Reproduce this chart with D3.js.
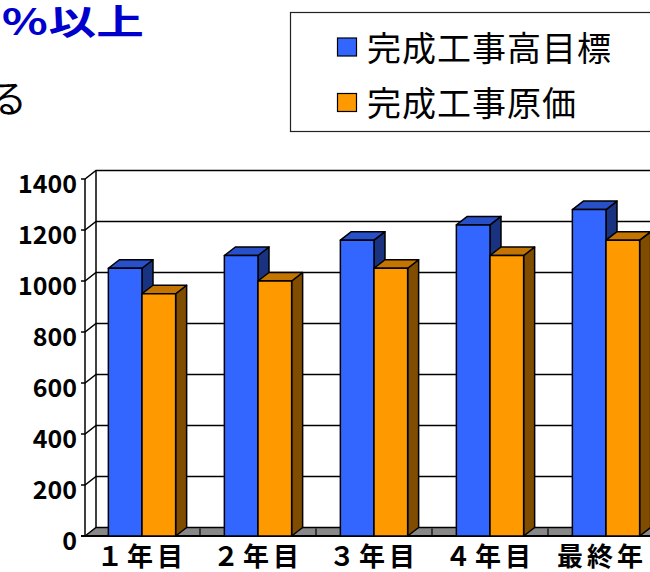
<!DOCTYPE html>
<html>
<head>
<meta charset="utf-8">
<title>chart</title>
<style>
body { margin: 0; background: #fff; }
</style>
</head>
<body>
<div id="chart"></div>
<script src="https://cdn.jsdelivr.net/npm/d3@7"></script>
<script type="text/javascript">

// データ
var categories = ['１年目', '２年目', '３年目', '４年目', '最終年'];
var seriesNames = ['完成工事高目標', '完成工事原価'];
var targetValues = [1050, 1100, 1160, 1220, 1280];
var costValues = [950, 1000, 1050, 1100, 1160];
var yTicks = [0, 200, 400, 600, 800, 1000, 1200, 1400];

var values = [targetValues, costValues];
var colors = [
    {front: '#3366FF', top: '#2850C8', side: '#1A3380'},
    {front: '#FF9900', top: '#C47400', side: '#7F4C00'}
];

// 奥行き
var dx = 11, dy = -8.5;
var axisX = 85, rightX = 720;
var font = '"Noto Sans CJK JP", "Noto Sans", sans-serif';

var svg = d3.select('#chart')
.append('svg')
.attr('width', 650)
.attr('height', 572)
.style('display', 'block');

var yScale = d3.scaleLinear()
.domain([0, 1400])
.range([536, 179]);

var xScale = d3.scaleBand()
.domain(categories)
.range([84, 664])
.paddingInner(0.42)
.paddingOuter(0.21);

var subScale = d3.scaleBand()
.domain(d3.range(seriesNames.length))
.range([0, xScale.bandwidth()]);

var y0 = yScale(0), yTop = yScale(1400);

// 壁
svg.append('path')
.attr('d', 'M' + (axisX + dx) + ',' + (yTop + dy) + 'L' + (axisX + dx) + ',' + (y0 + dy))
.attr('stroke', '#000').attr('stroke-width', 1.5).attr('fill', 'none');

svg.append('path')
.attr('d', 'M' + axisX + ',' + yTop + 'L' + axisX + ',' + y0)
.attr('stroke', '#000').attr('stroke-width', 1.5).attr('fill', 'none');

// 目盛線
yTicks.forEach(function(v) {
    if (v == 0) return;
    var yy = yScale(v);
    svg.append('path')
    .attr('d', 'M' + (axisX - 4) + ',' + yy + 'L' + axisX + ',' + yy +
        'L' + (axisX + dx) + ',' + (yy + dy) + 'L' + rightX + ',' + (yy + dy))
    .attr('stroke', '#000')
    .attr('stroke-width', 1.5)
    .attr('fill', 'none');
});

// 床
svg.append('path')
.attr('d', 'M' + axisX + ',' + y0 + 'L' + (axisX + dx) + ',' + (y0 + dy) +
    'L' + rightX + ',' + (y0 + dy) + 'L' + rightX + ',' + y0 + 'Z')
.attr('fill', '#888')
.attr('stroke', '#000')
.attr('stroke-width', 1.5);

svg.append('path')
.attr('d', 'M' + (axisX - 4) + ',' + y0 + 'L' + rightX + ',' + y0)
.attr('stroke', '#000').attr('stroke-width', 2);

// 項目軸の目盛
categories.forEach(function(c, i) {
    if (i == 0) return;
    var xx = xScale(c) - xScale.step() * xScale.paddingInner() / 2;
    svg.append('line')
    .attr('x1', xx).attr('x2', xx)
    .attr('y1', y0 + dy + 1).attr('y2', y0)
    .attr('stroke', '#000')
    .attr('stroke-width', 1.2);
});

// 棒
categories.forEach(function(c, i) {
    values.forEach(function(arr, s) {
        var x = xScale(c) + subScale(s);
        var w = subScale.bandwidth();
        var yv = yScale(arr[i]);
        var g = svg.append('g')
        .attr('stroke', '#000')
        .attr('stroke-width', 1.5)
        .attr('stroke-linejoin', 'round');

        g.append('path')
        .attr('d', 'M' + (x + w) + ',' + yv + 'L' + (x + w + dx) + ',' + (yv + dy) +
            'L' + (x + w + dx) + ',' + (y0 + dy) + 'L' + (x + w) + ',' + y0 + 'Z')
        .attr('fill', colors[s].side);

        g.append('path')
        .attr('d', 'M' + x + ',' + yv + 'L' + (x + dx) + ',' + (yv + dy) +
            'L' + (x + w + dx) + ',' + (yv + dy) + 'L' + (x + w) + ',' + yv + 'Z')
        .attr('fill', colors[s].top);

        g.append('rect')
        .attr('x', x)
        .attr('y', yv)
        .attr('width', w)
        .attr('height', y0 - yv)
        .attr('fill', colors[s].front);
    });
});

// 数値軸ラベル
yTicks.forEach(function(v) {
    svg.append('text')
    .attr('x', 77)
    .attr('y', yScale(v) + 2.5)
    .attr('text-anchor', 'end')
    .attr('dominant-baseline', 'central')
    .style('font-family', font)
    .style('font-weight', 700)
    .style('font-size', '25px')
    .text(v);
});

// 項目ラベル
categories.forEach(function(c, i) {
    svg.append('text')
    .attr('x', xScale(c) + xScale.bandwidth() / 2 - (i == categories.length - 1 ? 4 : 0))
    .attr('y', 554)
    .attr('text-anchor', 'middle')
    .attr('dominant-baseline', 'central')
    .style('font-family', font)
    .style('font-weight', 700)
    .style('font-size', '26px')
    .style('letter-spacing', '4px')
    .text(c);
});

// 凡例
svg.append('rect')
.attr('x', 290.5).attr('y', 12.5)
.attr('width', 420).attr('height', 119)
.attr('fill', '#fff')
.attr('stroke', '#222')
.attr('stroke-width', 1.2);

seriesNames.forEach(function(name, s) {
    var cy = 47 + s * 55.5;
    svg.append('rect')
    .attr('x', 337.5).attr('y', cy - 9)
    .attr('width', 19).attr('height', 18)
    .attr('fill', colors[s].front)
    .attr('stroke', '#000')
    .attr('stroke-width', 1.2);
    svg.append('text')
    .attr('x', 367)
    .attr('y', cy - 1)
    .attr('dominant-baseline', 'central')
    .style('font-family', font)
    .style('font-size', '34px')
    .style('letter-spacing', '1px')
    .text(name);
});

// 見出し（切れている部分）
svg.append('text')
.attr('transform', 'translate(1, 35) scale(1.36, 1)')
.style('font-family', font)
.style('font-weight', 700)
.style('font-size', '35px')
.style('fill', '#0000CC')
.text('％以上');

svg.append('text')
.attr('x', 27)
.attr('y', 112)
.attr('text-anchor', 'end')
.style('font-family', font)
.style('font-size', '38px')
.style('fill', '#000')
.text('る');

</script>
</body>
</html>
